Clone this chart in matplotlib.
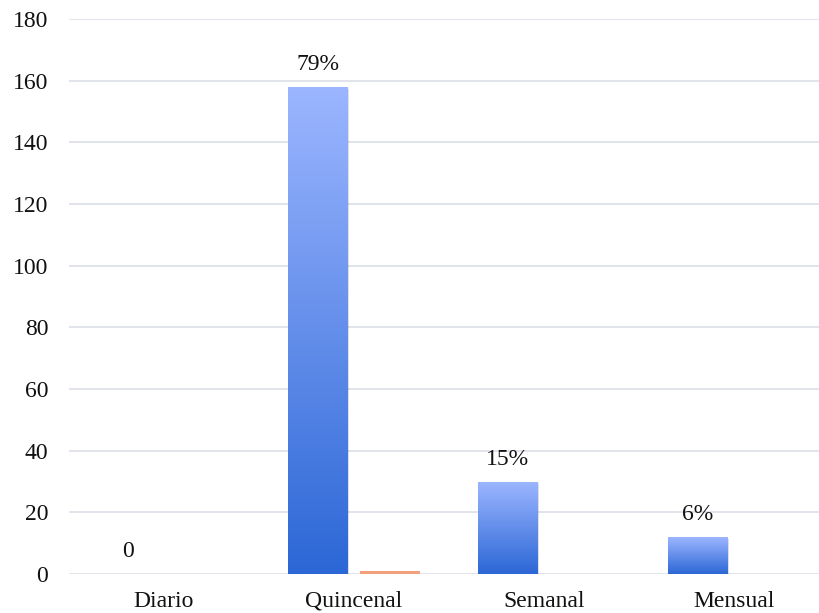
import numpy as np
import matplotlib
matplotlib.use("Agg")
import matplotlib.pyplot as plt
from matplotlib.colors import LinearSegmentedColormap
from matplotlib.patches import Rectangle

categories = ["Diario", "Quincenal", "Semanal", "Mensual"]
counts = [0, 158, 30, 12]
secondary = [0, 1, 0, 0]
labels = ["0", "79%", "15%", "6%"]

plt.rcParams["font.family"] = ["Liberation Serif", "DejaVu Serif"]

fig = plt.figure(figsize=(8.2, 6.13), dpi=100)
ax = fig.add_axes([69 / 820, 39 / 613, 760 / 820, 555 / 613])

x = np.arange(len(categories))
width = 0.315
offset = 0.19

grad = LinearSegmentedColormap.from_list("bluegrad", ["#2c67d6", "#9cb6ff"])
gradient = np.linspace(0, 1, 256).reshape(-1, 1)

bars = ax.bar(x - offset, counts, width, color="none", zorder=3)
for rect in bars:
    h = rect.get_height()
    if h <= 0:
        continue
    x0 = rect.get_x()
    w = rect.get_width()
    # soft shadow
    ax.add_patch(Rectangle((x0 + 0.008, -0.6), w, h, color="#000000",
                           alpha=0.12, lw=0, zorder=2))
    im = ax.imshow(gradient, extent=[x0, x0 + w, 0, h], origin="lower",
                   aspect="auto", cmap=grad, zorder=3)
    im.set_clip_path(rect)

ax.bar(x + offset, secondary, width, color="#f4a07a", zorder=3)

for xi, v, lab in zip(x, counts, labels):
    ax.text(xi - offset, v + 3.8, lab, ha="center", va="bottom",
            fontsize=17, color="#111111")

ax.set_xlim(-0.5, 3.5)
ax.set_ylim(0, 180)
ax.set_yticks(np.arange(0, 181, 20))
ax.set_xticks(x)
ax.set_xticklabels(categories)
ax.tick_params(axis="both", length=0, labelsize=17, colors="#111111")
ax.tick_params(axis="x", pad=12)
ax.tick_params(axis="y", pad=15)
ax.grid(axis="y", color="#e1e4ea", linewidth=1.4, zorder=0)
ax.set_axisbelow(True)
for s in ax.spines.values():
    s.set_visible(False)

fig.savefig("out.png", dpi=100)
